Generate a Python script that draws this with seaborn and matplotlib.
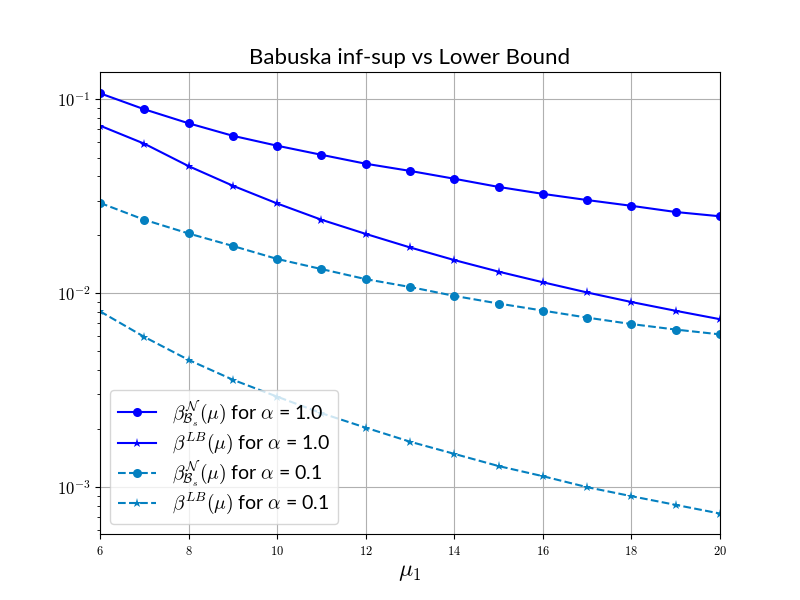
import numpy as np
import pandas as pd
import matplotlib
matplotlib.use('Agg')
import matplotlib.pyplot as plt
from matplotlib.ticker import FuncFormatter
import seaborn as sns

# values (log scale)
mu = [6, 7, 8, 9, 10, 11, 12, 13, 14, 15, 16, 17, 18, 19, 20]
beta_n_a1 = [0.1074, 0.0888, 0.0752, 0.0648, 0.0576, 0.0517, 0.0465, 0.0427,
             0.0389, 0.0353, 0.0325, 0.0302, 0.0282, 0.0262, 0.0249]
beta_lb_a1 = [0.0731, 0.0590, 0.0452, 0.0358, 0.0290, 0.0239, 0.0202, 0.0172,
              0.0148, 0.0129, 0.01137, 0.01007, 0.00899, 0.00810, 0.00733]
beta_n_a01 = [0.0292, 0.0239, 0.0203, 0.0175, 0.0150, 0.0133, 0.0118, 0.01075,
              0.00967, 0.00883, 0.00812, 0.00747, 0.00692, 0.00648, 0.00612]
beta_lb_a01 = [0.00805, 0.00594, 0.00452, 0.00357, 0.00292, 0.00240, 0.00202,
               0.00171, 0.00148, 0.00128, 0.001135, 0.000996, 0.000895,
               0.000807, 0.000728]

plt.rcParams['mathtext.fontset'] = 'cm'
plt.rcParams['font.family'] = ['Lato', 'DejaVu Sans']

df = pd.DataFrame({'mu': mu, 'n1': beta_n_a1, 'lb1': beta_lb_a1,
                   'n01': beta_n_a01, 'lb01': beta_lb_a01})

fig, ax = plt.subplots(figsize=(8, 6), dpi=100)

blue = '#0000ff'
light = '#0480c0'
series = [
    ('n1', blue, '-', 'o', r'$\beta^{\mathcal{N}}_{\mathcal{B}_s}(\mu)$ for $\alpha$ = 1.0'),
    ('lb1', blue, '-', '*', r'$\beta^{LB}(\mu)$ for $\alpha$ = 1.0'),
    ('n01', light, '--', 'o', r'$\beta^{\mathcal{N}}_{\mathcal{B}_s}(\mu)$ for $\alpha$ = 0.1'),
    ('lb01', light, '--', '*', r'$\beta^{LB}(\mu)$ for $\alpha$ = 0.1'),
]
for col, c, ls, mk, lab in series:
    sns.lineplot(data=df, x='mu', y=col, ax=ax, color=c, linestyle=ls,
                 marker=mk, markersize=6.5, markeredgewidth=0, label=lab,
                 linewidth=1.5)

ax.set_yscale('log')
ax.set_xlim(6, 20)
ax.set_ylim(5.71e-4, 0.1383)
ax.set_xticks(np.arange(6, 21, 2))
ax.xaxis.set_major_formatter(FuncFormatter(lambda v, p: f'${int(v)}$'))
ax.yaxis.set_major_formatter(
    FuncFormatter(lambda v, p: f'$10^{{{int(round(np.log10(v)))}}}$'))
ax.tick_params(axis='x', labelsize=9)
ax.tick_params(axis='y', labelsize=12)
ax.grid(True, which='major', color='#b0b0b0', linewidth=0.8)

ax.set_title('Babuska inf-sup vs Lower Bound', fontsize=16)
ax.set_xlabel(r'$\mu_1$', fontsize=17)
ax.set_ylabel('')
ax.legend(loc='lower left', fontsize=14, borderpad=0.4, labelspacing=0.1,
          handlelength=2.0)

plt.savefig('out.png', dpi=100)
